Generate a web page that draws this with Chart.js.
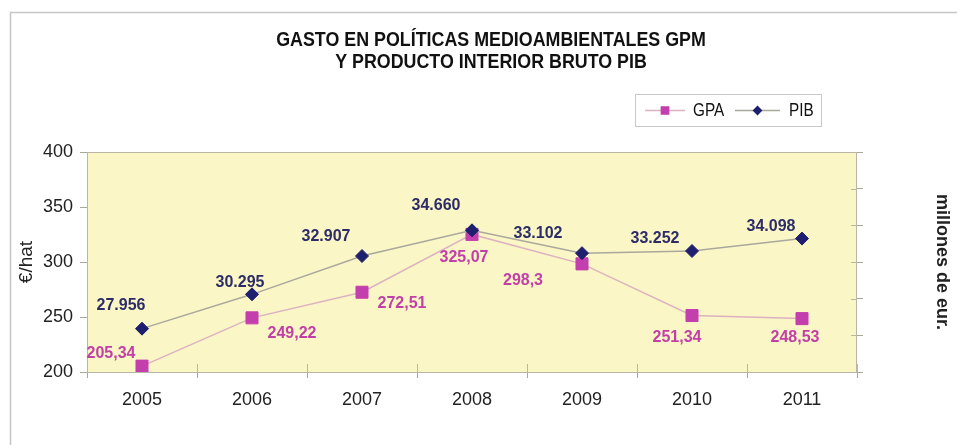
<!DOCTYPE html>
<html>
  <head>
    <meta charset="UTF-8" />
    <script src="https://cdn.jsdelivr.net/npm/chart.js"></script>
    <style>
      html,
      body {
        margin: 0;
        padding: 0;
        background: #fff;
      }
      #wrap {
        width: 957px;
        height: 445px;
      }
    </style>
  </head>
  <body>
    <div id="wrap"><canvas id="gpaChart" width="957" height="445"></canvas></div>
    <script>
      // datos del gráfico
      const years = ["2005", "2006", "2007", "2008", "2009", "2010", "2011"];
      const gpaValues = [205.34, 249.22, 272.51, 325.07, 298.3, 251.34, 248.53];
      const pibValues = [27956, 30295, 32907, 34660, 33102, 33252, 34098];
      const leftTicks = [200, 250, 300, 350, 400];
      const rightTicks = [25000, 27500, 30000, 32500, 35000, 37500, 40000];
      const titleLines = [
        "GASTO EN POLÍTICAS MEDIOAMBIENTALES GPM",
        "Y PRODUCTO INTERIOR BRUTO PIB",
      ];

      // desplazamiento de cada etiqueta respecto a su punto (px)
      const gpaLabelShift = [[-31, -13], [40, 16], [40, 11], [-8, 23], [-59, 17], [-15, 22], [-7, 19]];
      const pibLabelShift = [[-21, -23], [-12, -12], [-36, -19], [-36, -25], [-44, -20], [-37, -12], [-31, -12]];

      const FONT = "'Liberation Sans', Arial, sans-serif";
      const GPA_COLOR = "#c43fae";
      const PIB_COLOR = "#1f1f70";

      function fmtGpa(v) {
        return String(v).replace(".", ",");
      }
      function fmtPib(v) {
        return String(v).replace(/\B(?=(\d{3})+(?!\d))/g, ".");
      }

      // texto estrecho (como la fuente original)
      function narrowText(ctx, text, x, y, align) {
        ctx.save();
        ctx.translate(x, y);
        ctx.scale(0.85, 1);
        ctx.textAlign = align;
        ctx.textBaseline = "middle";
        ctx.fillText(text, 0, 0);
        ctx.restore();
      }

      const decoPlugin = {
        id: "deco",
        beforeDraw(chart) {
          const ctx = chart.ctx;
          const a = chart.chartArea;
          ctx.save();
          ctx.fillStyle = "#fff";
          ctx.fillRect(0, 0, chart.width, chart.height);
          // marco exterior
          ctx.strokeStyle = "#c6c6c6";
          ctx.lineWidth = 1.5;
          ctx.beginPath();
          ctx.moveTo(10.5, chart.height);
          ctx.lineTo(10.5, 12.5);
          ctx.lineTo(chart.width, 12.5);
          ctx.stroke();
          // fondo del área de trazado
          ctx.fillStyle = "#fbf6c6";
          ctx.fillRect(a.left, a.top, a.right - a.left, a.bottom - a.top);
          ctx.restore();
        },
        beforeDatasetsDraw(chart) {
          const ctx = chart.ctx;
          const a = chart.chartArea;
          ctx.save();
          ctx.strokeStyle = "#b9b6a6";
          ctx.lineWidth = 1;
          ctx.strokeRect(a.left + 0.5, a.top + 0.5, a.right - a.left - 1, a.bottom - a.top);
          // marcas interiores del eje X
          const xs = chart.scales.x;
          const step = (xs.right - xs.left) / years.length;
          ctx.beginPath();
          for (let i = 0; i <= years.length; i++) {
            const px = Math.round(xs.left + i * step) + 0.5;
            ctx.moveTo(px, a.bottom);
            ctx.lineTo(px, a.bottom - 8);
          }
          // marcas interiores del eje derecho
          const y1 = chart.scales.y1;
          rightTicks.forEach((v) => {
            const py = Math.round(y1.getPixelForValue(v)) + 0.5;
            ctx.moveTo(a.right, py);
            ctx.lineTo(a.right - 6, py);
          });
          ctx.stroke();
          ctx.restore();
        },
        afterDatasetsDraw(chart) {
          const ctx = chart.ctx;
          ctx.save();
          ctx.font = "bold 16px " + FONT;
          ctx.textAlign = "center";
          ctx.textBaseline = "middle";
          const sets = [
            { idx: 0, fmt: fmtGpa, shift: gpaLabelShift, color: "#c23fa8" },
            { idx: 1, fmt: fmtPib, shift: pibLabelShift, color: "#2c2c68" },
          ];
          sets.forEach((s) => {
            const meta = chart.getDatasetMeta(s.idx);
            const vals = chart.data.datasets[s.idx].data;
            ctx.fillStyle = s.color;
            meta.data.forEach((pt, i) => {
              ctx.fillText(s.fmt(vals[i]), pt.x + s.shift[i][0], pt.y + s.shift[i][1]);
            });
          });
          ctx.restore();
        },
        afterDraw(chart) {
          const ctx = chart.ctx;
          ctx.save();
          // título
          ctx.fillStyle = "#111";
          ctx.font = "bold 21px " + FONT;
          narrowText(ctx, titleLines[0], 491, 40, "center");
          narrowText(ctx, titleLines[1], 491, 62, "center");
          // leyenda
          ctx.fillStyle = "#fff";
          ctx.fillRect(635, 94, 186, 32);
          ctx.strokeStyle = "#c8c8c8";
          ctx.lineWidth = 1;
          ctx.strokeRect(635.5, 94.5, 186, 32);
          const items = [
            { ds: chart.data.datasets[0], x0: 645, x1: 685, tx: 693 },
            { ds: chart.data.datasets[1], x0: 735, x1: 780, tx: 789 },
          ];
          items.forEach((it) => {
            ctx.strokeStyle = it.ds.borderColor;
            ctx.lineWidth = 1.5;
            ctx.beginPath();
            ctx.moveTo(it.x0, 110.5);
            ctx.lineTo(it.x1, 110.5);
            ctx.stroke();
            ctx.fillStyle = it.ds.pointBackgroundColor;
            ctx.strokeStyle = it.ds.pointBorderColor;
            Chart.helpers.drawPoint(
              ctx,
              { pointStyle: it.ds.pointStyle, radius: it.ds.pointRadius * 0.6, rotation: 0, borderWidth: 1 },
              (it.x0 + it.x1) / 2,
              110.5
            );
            ctx.fillStyle = "#111";
            ctx.font = "18px " + FONT;
            narrowText(ctx, it.ds.label, it.tx, 111, "left");
          });
          ctx.restore();
        },
      };

      const ctx = document.getElementById("gpaChart").getContext("2d");
      new Chart(ctx, {
        type: "line",
        data: {
          labels: years,
          datasets: [
            {
              label: "GPA",
              data: gpaValues,
              yAxisID: "y",
              order: 1,
              borderColor: "#dcb2c0",
              borderWidth: 1.5,
              pointStyle: "rect",
              pointRadius: 8.5,
              pointBackgroundColor: GPA_COLOR,
              pointBorderColor: GPA_COLOR,
              pointBorderWidth: 1,
              tension: 0,
              fill: false,
            },
            {
              label: "PIB",
              data: pibValues,
              yAxisID: "y1",
              order: 0,
              borderColor: "#a9a89c",
              borderWidth: 1.5,
              pointStyle: "rectRot",
              pointRadius: 6.5,
              pointBackgroundColor: PIB_COLOR,
              pointBorderColor: PIB_COLOR,
              pointBorderWidth: 1,
              tension: 0,
              fill: false,
            },
          ],
        },
        options: {
          responsive: false,
          animation: false,
          layout: { padding: { top: 152, left: 0, right: 0, bottom: 0 } },
          plugins: {
            legend: { display: false },
            title: { display: false },
            tooltip: { enabled: false },
          },
          scales: {
            x: {
              type: "category",
              offset: true,
              grid: { offset: true, drawOnChartArea: false, tickLength: 6, color: "#a9a89c" },
              border: { display: false },
              ticks: { font: { family: FONT, size: 18 }, color: "#222", padding: 11 },
              afterFit(scale) {
                scale.height = 73;
              },
            },
            y: {
              position: "left",
              min: 200,
              max: 400,
              afterBuildTicks(scale) {
                scale.ticks = leftTicks.map((v) => ({ value: v }));
              },
              grid: { drawOnChartArea: false, tickLength: 7, color: "#a9a89c" },
              border: { display: false },
              ticks: { font: { family: FONT, size: 18 }, color: "#222", padding: 7 },
              title: {
                display: true,
                text: "€/hat",
                font: { family: FONT, size: 19 },
                color: "#222",
                padding: { top: 15 },
              },
              afterFit(scale) {
                scale.width = 87;
              },
            },
            y1: {
              position: "right",
              min: 25000,
              max: 40000,
              afterBuildTicks(scale) {
                scale.ticks = rightTicks.map((v) => ({ value: v }));
              },
              grid: { drawOnChartArea: false, tickLength: 6, color: "#a9a89c" },
              border: { display: false },
              ticks: { display: false },
              title: {
                display: true,
                text: "millones de eur.",
                font: { family: FONT, size: 18, weight: "bold" },
                color: "#222",
                padding: { top: 4 },
              },
              afterFit(scale) {
                scale.width = 100;
              },
            },
          },
        },
        plugins: [decoPlugin],
      });
    </script>
  </body>
</html>
